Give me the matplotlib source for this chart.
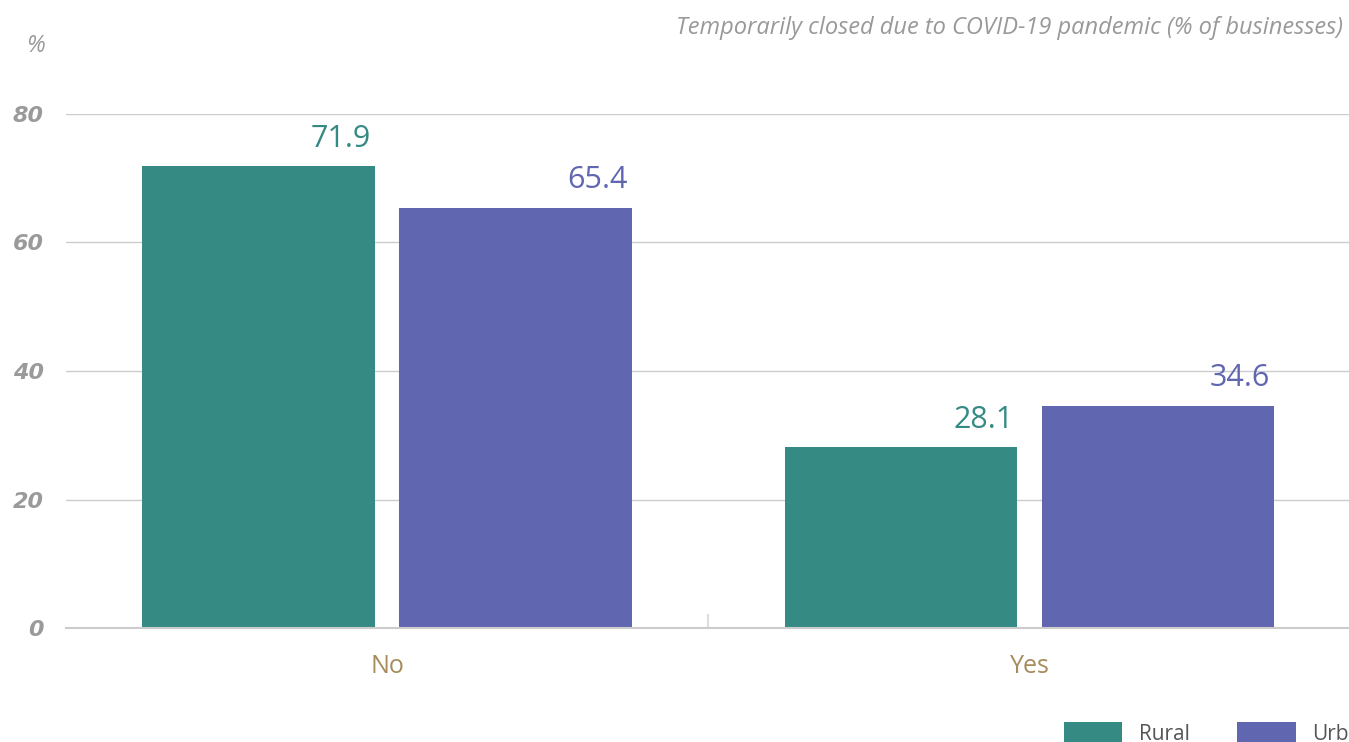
import matplotlib.pyplot as plt
import numpy as np

categories = ['No', 'Yes']
series = ['Rural', 'Urban']
rural = [71.9, 28.1]
urban = [65.4, 34.6]
colors = ['#358b84', '#6066b0']
yticks = [0, 20, 40, 60, 80]

plt.rcParams['font.family'] = ['Open Sans', 'DejaVu Sans']

fig = plt.figure(figsize=(13.49, 7.42), dpi=100)
ax = fig.add_axes([66 / 1349, 114 / 742, 1283 / 1349, 514 / 742])

x = np.arange(len(categories))
w = 0.362
off = 0.2
bars = []
for vals, name, c, sgn in zip([rural, urban], series, colors, [-1, 1]):
    b = ax.bar(x + sgn * off, vals, width=w, color=c, label=name, zorder=2)
    bars.append(b)
    for rect, v in zip(b, vals):
        ax.annotate(f'{v:.1f}', (rect.get_x() + rect.get_width(), v),
                    xytext=(-3, 14), textcoords='offset points',
                    ha='right', va='baseline', fontsize=22, color=c, zorder=4)

ax.set_xlim(-0.5, 1.497)
ax.set_ylim(0, 80)
ax.set_yticks(yticks)
ax.set_yticklabels([str(t) for t in yticks], family='DejaVu Sans',
                   fontweight='bold', style='italic', fontsize=16, color='#9a9a9a')
ax.tick_params(axis='y', length=0, pad=16)
ax.yaxis.grid(True, color='#cccccc', lw=1)
ax.set_axisbelow(True)

ax.set_xticks(x)
ax.set_xticklabels(categories, fontsize=18, color='#a68b5b')
ax.tick_params(axis='x', length=0, pad=19)
ax.set_xticks([0.5], minor=True)
ax.tick_params(axis='x', which='minor', direction='in', length=10, width=1.5, color='#dddddd')

for s in ['top', 'right', 'left']:
    ax.spines[s].set_visible(False)
ax.spines['bottom'].set_color('#cccccc')
ax.spines['bottom'].set_linewidth(1.5)

fig.text(35 / 1349, 1 - 46 / 742, '%', ha='center', va='center', fontsize=17,
         style='italic', color='#9a9a9a')
fig.text(1343 / 1349, 1 - 28 / 742,
         'Temporarily closed due to COVID-19 pandemic (% of businesses)',
         ha='right', va='center', fontsize=17, style='italic', color='#999999')

# legend runs off the right edge, as in the original
ax.legend(handles=bars, loc='upper left', bbox_to_anchor=(1064 / 1349, 20 / 742),
          bbox_transform=fig.transFigure, frameon=False, fontsize=15,
          ncol=2, handlelength=2.8, handleheight=1.2, handletextpad=0.82,
          columnspacing=2.25, borderpad=0, borderaxespad=0, labelcolor='#555555')

fig.savefig('out.png')
